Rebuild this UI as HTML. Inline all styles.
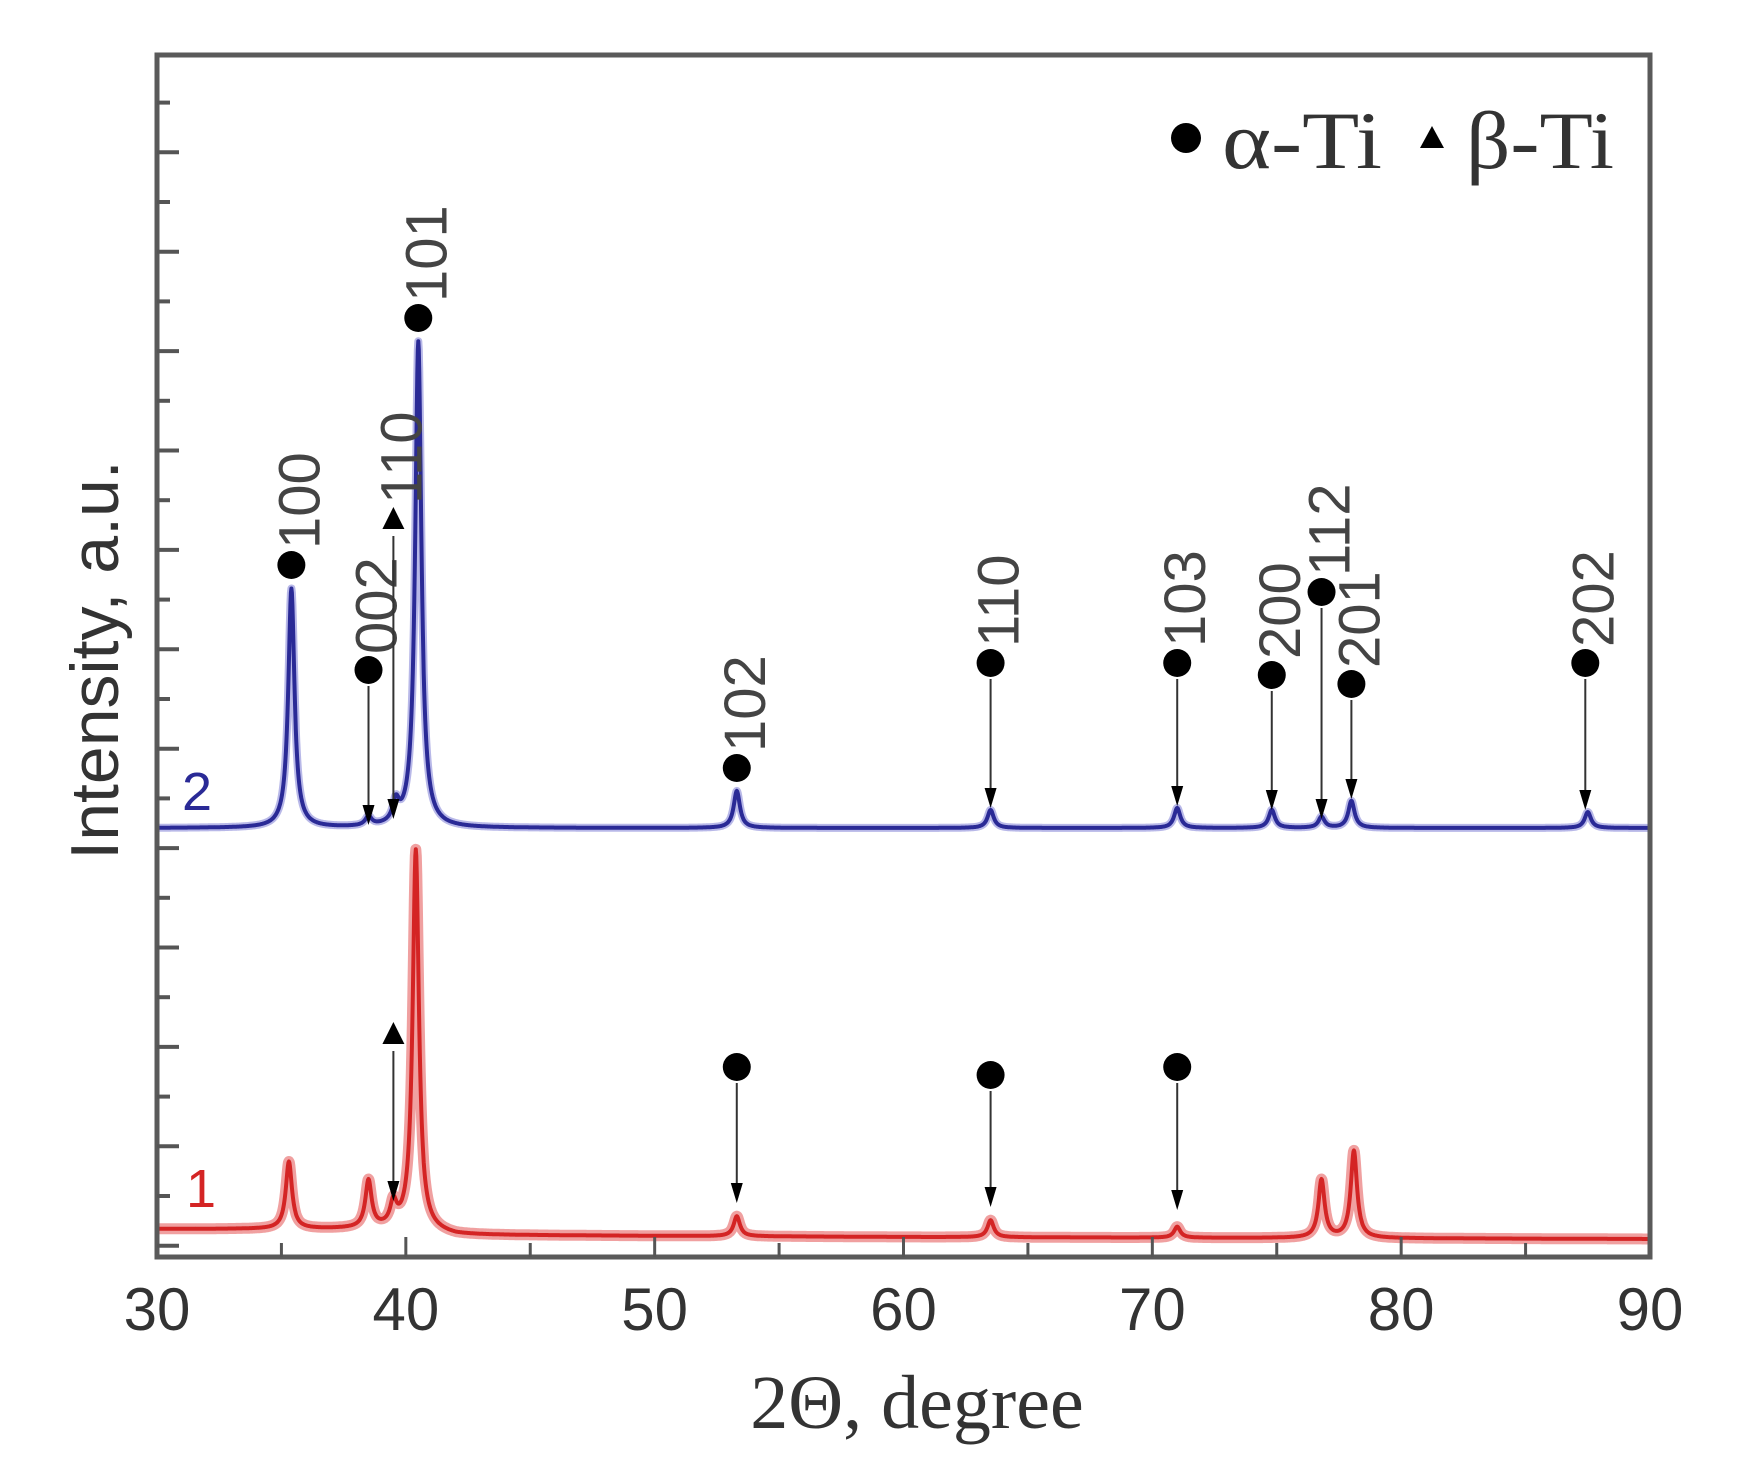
<!DOCTYPE html>
<html><head><meta charset="utf-8"><style>
html,body{margin:0;padding:0;background:#fff;}
svg{display:block;}
</style></head><body>
<svg id="chart" width="1751" height="1479" viewBox="0 0 1751 1479" xmlns="http://www.w3.org/2000/svg">
<rect width="1751" height="1479" fill="#fff"/>
<g id="plot"></g>
<text x="917" y="1428" text-anchor="middle" font-family="Liberation Serif, serif" font-size="76" fill="#333">2Θ, degree</text>
<text transform="translate(118,660) rotate(-90)" text-anchor="middle" font-family="Liberation Sans, sans-serif" font-size="68" fill="#333">Intensity, a.u.</text>
<g>
<circle cx="1186" cy="138" r="15" fill="#000"/>
<text x="1222" y="168" font-family="Liberation Serif, serif" font-size="82" fill="#333" textLength="160" lengthAdjust="spacingAndGlyphs">α-Ti</text>
<polygon points="1432,126 1444,148 1420,148" fill="#000"/>
<text x="1466" y="168" font-family="Liberation Serif, serif" font-size="82" fill="#333" textLength="148" lengthAdjust="spacingAndGlyphs">β-Ti</text>
</g>
</svg>
<script>
// ---- data ----
const xTicks = [30, 40, 50, 60, 70, 80, 90];
const blueOffset = 429;
const bluePeakPos = [35.4, 38.5, 39.6, 40.5, 53.3, 63.5, 71.0, 74.8, 76.8, 78.0, 87.5];
const bluePeakHeight = [239, 9, 20, 486, 37, 18, 20, 18, 11, 27, 16];
const redPeakPos = [35.3, 38.5, 39.5, 40.4, 53.3, 63.5, 71.0, 76.8, 78.1];
const redPeakHeight = [67, 47, 22, 380, 20, 17, 11, 58, 87];
const redBkgX = [30, 40, 42, 60, 90];
const redBkgY = [28, 28, 22, 20, 18];
const blueBkg = 0;
// annotations: position, marker height (a.u.), arrow end (a.u. or null), label, symbol
const blueAnnPos = [35.4, 38.5, 39.5, 40.5, 53.3, 63.5, 71.0, 74.8, 76.8, 78.0, 87.4];
const blueAnnMarker = [692, 587, 737, 939, 489, 594, 594, 582, 665, 573, 594];
const blueAnnArrow = [null, 432, 438, null, null, 449, 451, 447, 438, 458, 447];
const blueAnnLabel = ["100", "002", "110", "101", "102", "110", "103", "200", "112", "201", "202"];
const blueAnnSymbol = ["c", "c", "t", "c", "c", "c", "c", "c", "c", "c", "c"];
const redAnnPos = [39.5, 53.3, 63.5, 71.0];
const redAnnMarker = [222, 190, 182, 190];
const redAnnArrow = [56, 54, 50, 47];
const redAnnSymbol = ["t", "c", "c", "c"];

// ---- scales ----
const L = 157, R = 1650, T = 55, B = 1257;
const xScale = d => L + (d - 30) * (R - L) / 60;
const yScale = v => B - v;
const NS = 'http://www.w3.org/2000/svg';
const plot = document.getElementById('plot');
function mk(tag, attrs, parent) {
  const e = document.createElementNS(NS, tag);
  for (const k in attrs) e.setAttribute(k, attrs[k]);
  (parent || plot).appendChild(e);
  return e;
}
function interp(xs, ys, x) {
  if (x <= xs[0]) return ys[0];
  for (let i = 1; i < xs.length; i++) if (x <= xs[i]) {
    const t = (x - xs[i-1]) / (xs[i] - xs[i-1]); return ys[i-1] + t * (ys[i] - ys[i-1]);
  }
  return ys[ys.length - 1];
}
function profile(pos, h, x, g) {
  let s = 0;
  for (let i = 0; i < pos.length; i++) { const d = (x - pos[i]) / g; s += h[i] / (1 + d * d); }
  return s;
}
function pathFor(pos, h, bk, off, g) {
  let d = '';
  for (let x = 30; x <= 90.0001; x += 0.02) {
    const v = off + bk(x) + profile(pos, h, x, g);
    d += (d ? 'L' : 'M') + xScale(x).toFixed(1) + ',' + yScale(v).toFixed(1);
  }
  return d;
}

// series
const redD = pathFor(redPeakPos, redPeakHeight, x => interp(redBkgX, redBkgY, x), 0, 0.15);
let e = mk('path', {d: redD, fill: 'none', stroke: '#f0a0a0', 'stroke-width': 11, 'stroke-linejoin': 'round'});


e = mk('path', {d: redD, fill: 'none', stroke: '#d42424', 'stroke-width': 4, 'stroke-linejoin': 'round'});


const blueD = pathFor(bluePeakPos, bluePeakHeight, x => blueBkg, blueOffset, 0.15);
e = mk('path', {d: blueD, fill: 'none', stroke: '#b8b8e8', 'stroke-width': 8, 'stroke-linejoin': 'round'});


e = mk('path', {d: blueD, fill: 'none', stroke: '#2a2a96', 'stroke-width': 4, 'stroke-linejoin': 'round'});



// annotations
function symbol(sym, x, y, name) {
  let s;
  if (sym === 'c') s = mk('circle', {cx: x, cy: y, r: 14, fill: '#000'});
  else s = mk('polygon', {points: `${x},${y-13} ${x+11},${y+9} ${x-11},${y+9}`, fill: '#000'});
  
  
}
function arrow(x, y1, y2, name) {
  const g = mk('g', {});
  
  
  mk('line', {x1: x, y1: y1, x2: x, y2: y2 - 14, stroke: '#333', 'stroke-width': 2}, g);
  mk('polygon', {points: `${x-6},${y2-20} ${x+6},${y2-20} ${x},${y2}`, fill: '#000'}, g);
}
for (let i = 0; i < blueAnnPos.length; i++) {
  const x = xScale(blueAnnPos[i]), y = yScale(blueAnnMarker[i]);
  symbol(blueAnnSymbol[i], x, y, 'peak-marker-2-' + blueAnnLabel[i]);
  if (blueAnnArrow[i] !== null) arrow(x, y + 16, yScale(blueAnnArrow[i]), 'peak-arrow-2-' + blueAnnLabel[i]);
  const tx = x + 28, ty = y - 16;
  const t = mk('text', {transform: `translate(${tx},${ty}) rotate(-90)`, 'font-family': 'Liberation Sans, sans-serif', 'font-size': 58, fill: '#444'});
  t.textContent = blueAnnLabel[i];
  
  
}
for (let i = 0; i < redAnnPos.length; i++) {
  const x = xScale(redAnnPos[i]), y = yScale(redAnnMarker[i]);
  symbol(redAnnSymbol[i], x, y, 'peak-marker-1-' + i);
  arrow(x, y + 16, yScale(redAnnArrow[i]), 'peak-arrow-1-' + i);
}

// series labels
e = mk('text', {x: 182, y: 810, 'font-family': 'Liberation Sans, sans-serif', 'font-size': 54, fill: '#2a2a96'});
e.textContent = '2';


e = mk('text', {x: 186, y: 1207, 'font-family': 'Liberation Sans, sans-serif', 'font-size': 54, fill: '#d42424'});
e.textContent = '1';



// frame
e = mk('rect', {x: L, y: T, width: R - L, height: B - T, fill: 'none', stroke: '#5a5a5a', 'stroke-width': 5});



// y ticks
for (let i = 0; i < 24; i++) {
  const y = 102.6 + 49.7 * i;
  if (y > B - 4) break;
  const len = (i % 2 === 1) ? 22 : 13;
  const t = mk('line', {x1: L, y1: y, x2: L + len, y2: y, stroke: '#555', 'stroke-width': 4});
  
  
}
// x ticks
for (let d = 35; d < 90; d += 5) {
  const len = d % 10 === 0 ? 20 : 14;
  const t = mk('line', {x1: xScale(d), y1: B, x2: xScale(d), y2: B - len, stroke: '#555', 'stroke-width': 3});
  
  
}
for (const v of xTicks) {
  const t = mk('text', {x: xScale(v), y: 1330, 'text-anchor': 'middle', 'font-family': 'Liberation Sans, sans-serif', 'font-size': 60, fill: '#333'});
  t.textContent = v;
  
  
}
</script>
</body></html>
